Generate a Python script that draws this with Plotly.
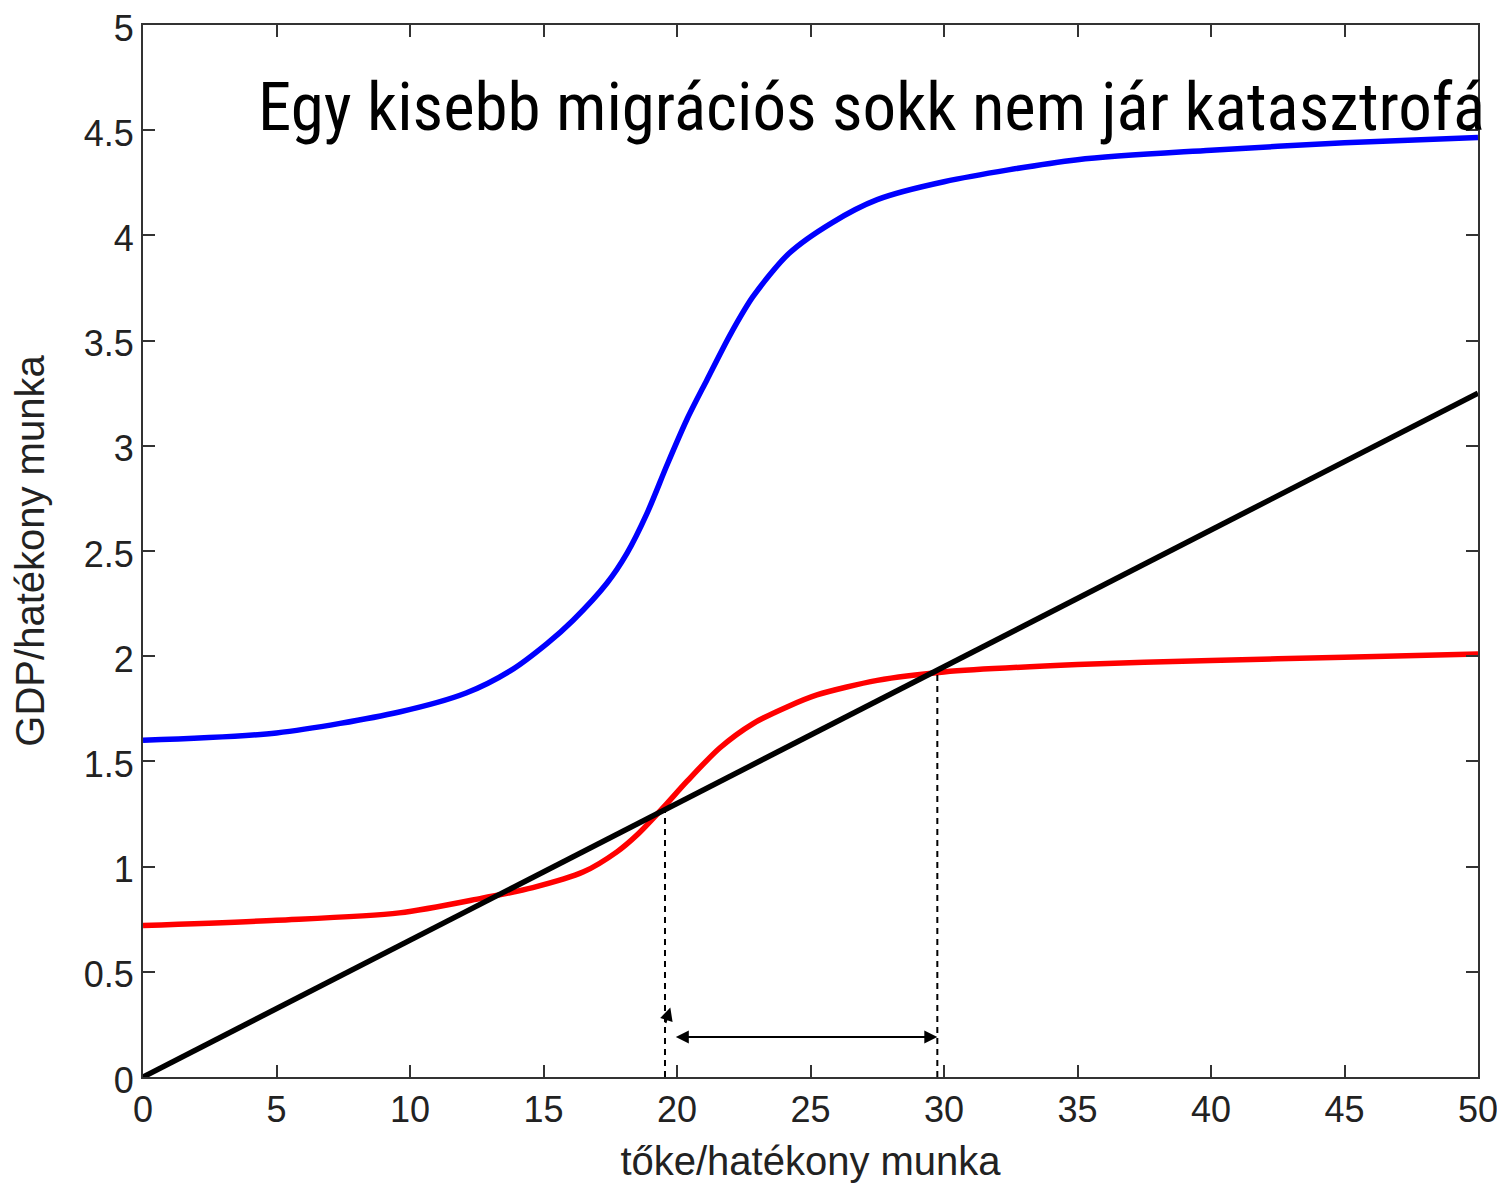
import plotly.graph_objects as go

# Data
blue_x = [0, 5, 9.6, 12.1, 13.75, 15.13, 16.1, 17.38, 18.13, 18.88, 19.63, 20.37, 21.12, 22, 22.85, 24.2, 25.8, 27.5, 30, 35, 40, 45, 50]
blue_y = [1.60, 1.635, 1.735, 1.825, 1.93, 2.06, 2.17, 2.348, 2.49, 2.68, 2.91, 3.125, 3.313, 3.53, 3.71, 3.915, 4.06, 4.17, 4.255, 4.36, 4.405, 4.44, 4.465]
red_x = [0, 5, 9.6, 12.7, 14.6, 16.5, 17.75, 18.5, 19.48, 20.37, 21.61, 22.85, 24.12, 25.24, 27.5, 30, 35, 40, 45, 50]
red_y = [0.72, 0.745, 0.78, 0.85, 0.90, 0.975, 1.07, 1.15, 1.28, 1.405, 1.565, 1.68, 1.759, 1.816, 1.885, 1.925, 1.96, 1.98, 1.995, 2.01]
line_x = [0, 50]
line_y = [0, 3.25]

eq_low = [19.55, 1.27]
eq_high = [29.75, 1.93]
arrow_y = 0.19
small_arrow = [19.55, 0.25, 19.75, 0.33]

x_ticks = [0, 5, 10, 15, 20, 25, 30, 35, 40, 45, 50]
y_ticks = [0, 0.5, 1, 1.5, 2, 2.5, 3, 3.5, 4, 4.5, 5]
y_tick_text = ["0", "0.5", "1", "1.5", "2", "2.5", "3", "3.5", "4", "4.5", "5"]

title_text = "Egy kisebb migrációs sokk nem jár katasztrofá"

fig = go.Figure()
fig.add_trace(go.Scatter(x=blue_x, y=blue_y, mode="lines", line=dict(color="#0000ff", width=5.5, shape="spline", smoothing=0.8)))
fig.add_trace(go.Scatter(x=red_x, y=red_y, mode="lines", line=dict(color="#ff0000", width=5.5, shape="spline", smoothing=0.8)))
fig.add_trace(go.Scatter(x=line_x, y=line_y, mode="lines", line=dict(color="#000000", width=5.5)))
for px, py in (eq_low, eq_high):
    fig.add_trace(go.Scatter(x=[px, px], y=[0, py], mode="lines", line=dict(color="#000000", width=2, dash="6px,5px")))

fig.add_annotation(x=eq_high[0], y=arrow_y, ax=eq_low[0] + 0.35, ay=arrow_y, xref="x", yref="y", axref="x", ayref="y",
                   showarrow=True, arrowhead=2, arrowsize=1.3, arrowwidth=2, arrowside="end+start", arrowcolor="#000000", text="")
fig.add_annotation(x=small_arrow[2], y=small_arrow[3], ax=small_arrow[0], ay=small_arrow[1], xref="x", yref="y", axref="x", ayref="y",
                   showarrow=True, arrowhead=2, arrowsize=1.3, arrowwidth=2, arrowcolor="#000000", text="")

fig.add_annotation(x=(256 - 143) / (1478 - 143), y=1 - (107 - 25) / (1077 - 25), xref="paper", yref="paper",
                   text=title_text, showarrow=False, xanchor="left", yanchor="middle",
                   font=dict(family="Roboto Condensed, Liberation Sans Narrow, Arial Narrow, sans-serif", size=67, color="#000000"))

axis_common = dict(showline=True, mirror="ticks", linecolor="#333333", linewidth=2, ticks="inside", ticklen=12,
                   tickwidth=2, tickcolor="#333333", showgrid=False, zeroline=False, automargin=False,
                   ticklabeloverflow="allow",
                   tickfont=dict(family="Liberation Sans, Arial, sans-serif", size=36, color="#222222"))
title_font = dict(family="Liberation Sans, Arial, sans-serif", size=40, color="#222222")

fig.update_xaxes(range=[0, 50], tickvals=x_ticks, ticktext=[str(v) for v in x_ticks],
                 title=dict(text="tőke/hatékony munka", standoff=18, font=title_font), **axis_common)
fig.update_yaxes(range=[0, 5], tickvals=y_ticks, ticktext=y_tick_text, ticklabelshift=3,
                 title=dict(text="GDP/hatékony munka", standoff=28, font=title_font), **axis_common)

# the page adds an 8px body margin, so the figure is sized to fill the 1505x1184 window
fig.update_layout(width=1497, height=1176, showlegend=False, plot_bgcolor="white", paper_bgcolor="white",
                  margin=dict(l=135, r=27, t=17, b=107), hovermode=False)

fig.write_html("out.html")
